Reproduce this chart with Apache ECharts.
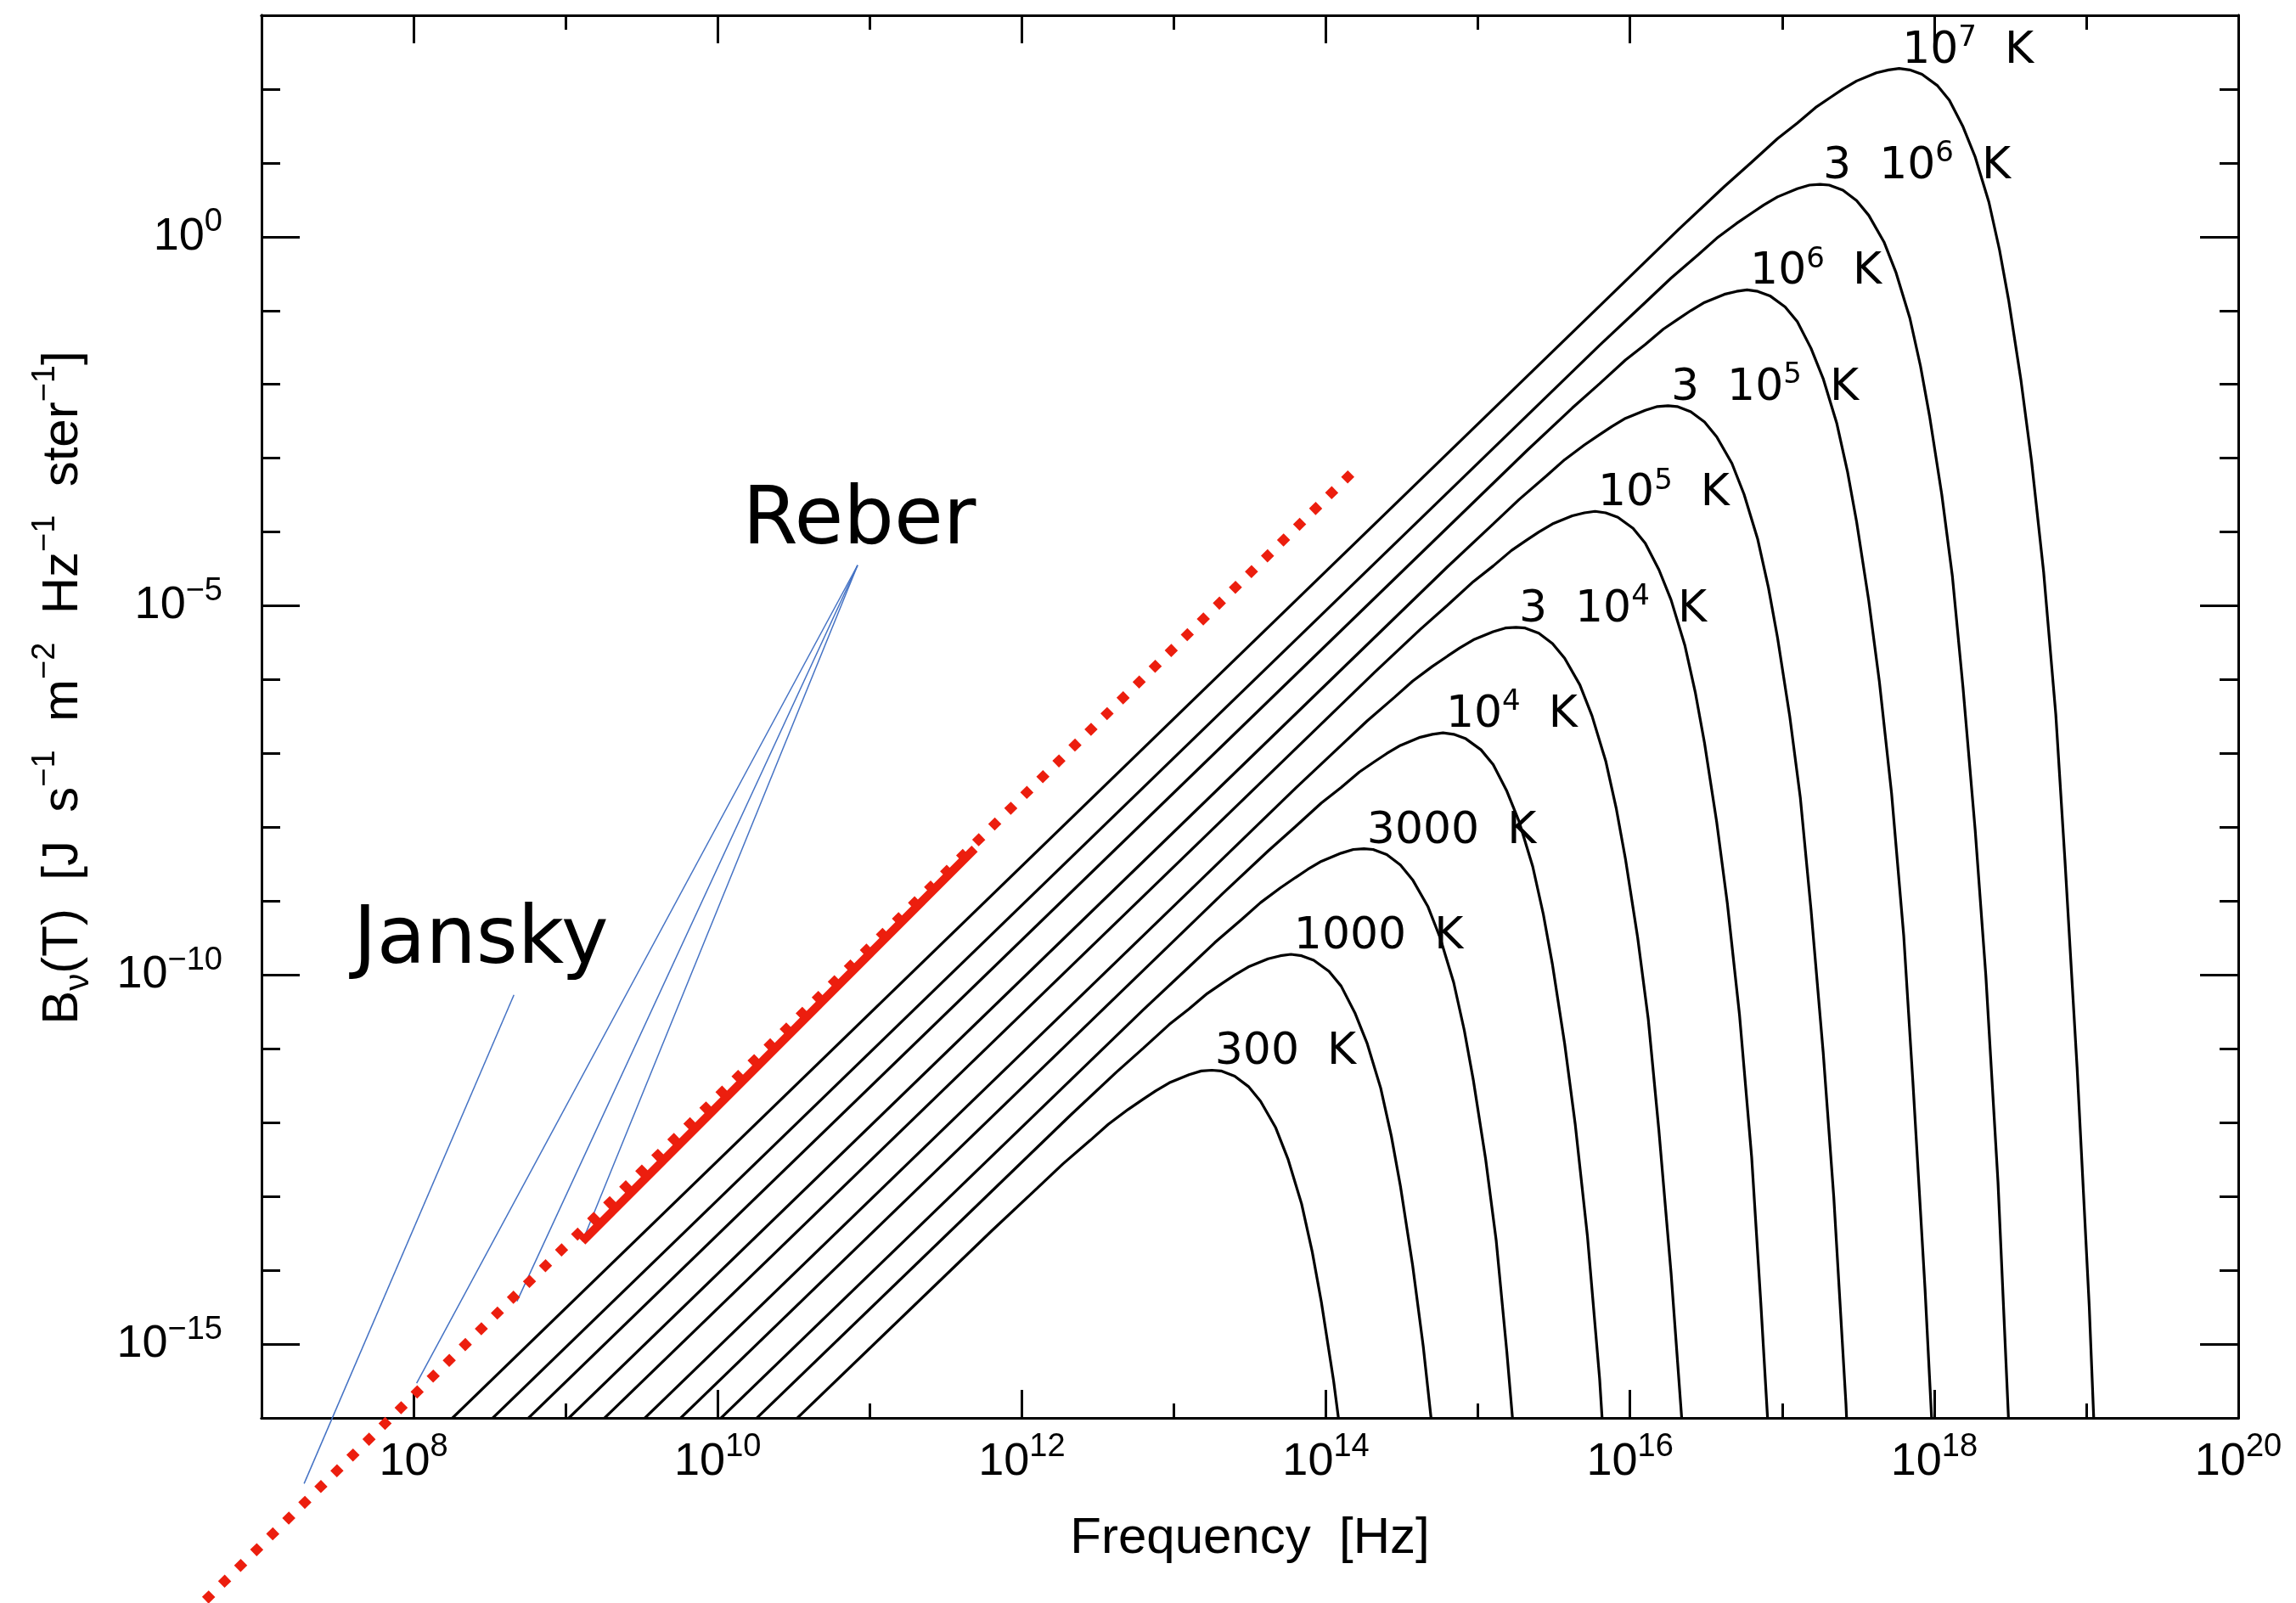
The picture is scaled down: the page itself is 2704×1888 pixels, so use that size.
<!DOCTYPE html>
<html>
<head>
<meta charset="utf-8">
<title>Planck curves</title>
<script src="https://cdn.jsdelivr.net/npm/echarts@6/dist/echarts.min.js"></script>
<style>
  html, body { margin: 0; padding: 0; background: #fff; }
  #chart { width: 2704px; height: 1888px; }
</style>
</head>
<body>
<div id="chart"></div>
<script>
// values are log10: x = frequency [Hz], y = B_nu [J s^-1 m^-2 Hz^-1 ster^-1]
const xMajorTicks = [8, 10, 12, 14, 16, 18, 20]
const yMajorTicks = [-15, -10, -5, 0]

const tempLabels = [
  '{n|300  K}', '{n|1000  K}', '{n|3000  K}',
  '{n|10}{s|4}{n|  K}', '{n|3  10}{s|4}{n|  K}',
  '{n|10}{s|5}{n|  K}', '{n|3  10}{s|5}{n|  K}',
  '{n|10}{s|6}{n|  K}', '{n|3  10}{s|6}{n|  K}',
  '{n|10}{s|7}{n|  K}'
]

const curve300 = [[10.00,-17.04],[11.80,-13.47],[12.10,-12.89],[12.27,-12.56],[12.45,-12.24],[12.57,-12.02],[12.70,-11.82],[12.80,-11.68],[12.88,-11.57],[12.97,-11.46],[13.10,-11.35],[13.18,-11.30],[13.25,-11.29],[13.31,-11.30],[13.40,-11.37],[13.49,-11.51],[13.57,-11.71],[13.67,-12.07],[13.75,-12.49],[13.84,-13.10],[13.91,-13.75],[13.97,-14.43],[14.05,-15.49],[14.12,-16.60],[14.19,-18.11]]
const curve1000 = [[9.70,-17.11],[12.32,-11.90],[12.62,-11.32],[12.80,-10.99],[12.97,-10.67],[13.10,-10.46],[13.22,-10.25],[13.32,-10.11],[13.40,-10.00],[13.49,-9.89],[13.62,-9.78],[13.70,-9.74],[13.77,-9.72],[13.84,-9.74],[13.92,-9.80],[14.02,-9.95],[14.10,-10.15],[14.19,-10.51],[14.27,-10.92],[14.36,-11.53],[14.43,-12.18],[14.49,-12.86],[14.57,-13.93],[14.64,-15.03],[14.72,-16.54],[14.80,-18.47]]
const curve3000 = [[9.50,-17.04],[12.80,-10.47],[13.10,-9.89],[13.27,-9.56],[13.45,-9.24],[13.57,-9.02],[13.70,-8.82],[13.80,-8.68],[13.88,-8.57],[13.97,-8.46],[14.10,-8.35],[14.18,-8.30],[14.25,-8.29],[14.31,-8.30],[14.40,-8.37],[14.49,-8.51],[14.57,-8.71],[14.67,-9.07],[14.75,-9.49],[14.84,-10.10],[14.91,-10.75],[14.97,-11.43],[15.05,-12.49],[15.12,-13.60],[15.19,-15.11],[15.27,-17.04],[15.34,-19.01]]
const curve1e4 = [[9.20,-17.11],[13.32,-8.90],[13.62,-8.32],[13.80,-7.99],[13.97,-7.67],[14.10,-7.46],[14.22,-7.25],[14.32,-7.11],[14.40,-7.00],[14.49,-6.89],[14.62,-6.78],[14.70,-6.74],[14.77,-6.72],[14.84,-6.74],[14.92,-6.80],[15.02,-6.95],[15.10,-7.15],[15.19,-7.51],[15.27,-7.92],[15.36,-8.53],[15.43,-9.18],[15.49,-9.86],[15.57,-10.93],[15.64,-12.03],[15.72,-13.54],[15.80,-15.47],[15.86,-17.44]]
const curve3e4 = [[9.00,-17.04],[13.80,-7.47],[14.10,-6.89],[14.27,-6.56],[14.45,-6.24],[14.57,-6.02],[14.70,-5.82],[14.80,-5.68],[14.88,-5.57],[14.97,-5.46],[15.10,-5.35],[15.18,-5.30],[15.25,-5.29],[15.31,-5.30],[15.40,-5.37],[15.49,-5.51],[15.57,-5.71],[15.67,-6.07],[15.75,-6.49],[15.84,-7.10],[15.91,-7.75],[15.97,-8.43],[16.05,-9.49],[16.12,-10.60],[16.19,-12.11],[16.27,-14.04],[16.34,-16.01],[16.42,-18.81]]
const curve1e5 = [[8.70,-17.11],[14.32,-5.90],[14.62,-5.32],[14.80,-4.99],[14.97,-4.67],[15.10,-4.46],[15.22,-4.25],[15.32,-4.11],[15.40,-4.00],[15.49,-3.89],[15.62,-3.78],[15.70,-3.74],[15.77,-3.72],[15.84,-3.74],[15.92,-3.80],[16.02,-3.95],[16.10,-4.15],[16.19,-4.51],[16.27,-4.92],[16.36,-5.53],[16.43,-6.18],[16.49,-6.86],[16.57,-7.93],[16.64,-9.03],[16.72,-10.54],[16.80,-12.47],[16.86,-14.44],[16.94,-17.25]]
const curve3e5 = [[8.50,-17.04],[14.80,-4.47],[15.10,-3.89],[15.27,-3.56],[15.45,-3.24],[15.57,-3.02],[15.70,-2.82],[15.80,-2.68],[15.88,-2.57],[15.97,-2.46],[16.10,-2.35],[16.18,-2.30],[16.25,-2.29],[16.31,-2.30],[16.40,-2.37],[16.49,-2.51],[16.57,-2.71],[16.67,-3.07],[16.75,-3.49],[16.84,-4.10],[16.91,-4.75],[16.97,-5.43],[17.05,-6.49],[17.12,-7.60],[17.19,-9.11],[17.27,-11.04],[17.34,-13.01],[17.42,-15.81],[17.49,-19.06]]
const curve1e6 = [[8.20,-17.11],[15.32,-2.90],[15.62,-2.32],[15.80,-1.99],[15.97,-1.67],[16.10,-1.46],[16.22,-1.25],[16.32,-1.11],[16.40,-1.00],[16.49,-0.89],[16.62,-0.78],[16.70,-0.74],[16.77,-0.72],[16.84,-0.74],[16.92,-0.80],[17.02,-0.95],[17.10,-1.15],[17.19,-1.51],[17.27,-1.92],[17.36,-2.53],[17.43,-3.18],[17.49,-3.86],[17.57,-4.93],[17.64,-6.03],[17.72,-7.54],[17.80,-9.47],[17.86,-11.44],[17.94,-14.25],[18.02,-17.49]]
const curve3e6 = [[8.00,-17.04],[15.80,-1.47],[16.10,-0.89],[16.27,-0.56],[16.45,-0.24],[16.57,-0.02],[16.70,0.18],[16.80,0.32],[16.88,0.43],[16.97,0.54],[17.10,0.65],[17.18,0.70],[17.25,0.71],[17.31,0.70],[17.40,0.63],[17.49,0.49],[17.57,0.29],[17.67,-0.07],[17.75,-0.49],[17.84,-1.10],[17.91,-1.75],[17.97,-2.43],[18.05,-3.49],[18.12,-4.60],[18.19,-6.11],[18.27,-8.04],[18.34,-10.01],[18.42,-12.81],[18.49,-16.06],[18.57,-20.17]]
const curve1e7 = [[7.70,-17.11],[16.32,0.10],[16.62,0.68],[16.80,1.01],[16.97,1.33],[17.10,1.54],[17.22,1.75],[17.32,1.89],[17.40,2.00],[17.49,2.11],[17.62,2.22],[17.70,2.26],[17.77,2.28],[17.84,2.26],[17.92,2.20],[18.02,2.05],[18.10,1.85],[18.19,1.49],[18.27,1.08],[18.36,0.47],[18.43,-0.18],[18.49,-0.86],[18.57,-1.93],[18.64,-3.03],[18.72,-4.54],[18.80,-6.47],[18.86,-8.44],[18.94,-11.25],[19.02,-14.49],[19.10,-18.60]]

const curves = [curve300, curve1000, curve3000, curve1e4, curve3e4, curve1e5, curve3e5, curve1e6, curve3e6, curve1e7]

// red Rayleigh-Jeans line (dotted) and the measured part (solid)
const rjDotted = [[6.63,-18.47],[14.17,-3.20]]
const rjSolid = [[9.11,-13.61],[11.69,-8.29]]

// annotation texts and their pointer lines
const noteNames = ['Jansky', 'Reber']
const notePos = [[7.60,-9.56],[10.16,-3.87]]
const pointerStart = [[8.66,-10.27],[10.92,-4.45],[10.92,-4.45],[10.92,-4.45]]
const pointerEnd = [[7.28,-16.89],[8.02,-15.53],[8.68,-14.42],[9.11,-13.61]]

const INK = '#000'
const TICK_FONT = 'Liberation Sans'
const CURVE_FONT = 'DejaVu Sans'
const RED = '#EC1E0E'
const BLUE = '#4472C4'

// plot box and scale, so the wide helper grid lines up with the visible one
const BOX = { left: 308, right: 68, top: 18, bottom: 218 }
const X_RANGE = [7, 20]
const Y_RANGE = [-16, 3]
const WIDE_X_MIN = 6.6
const WIDE_Y_MIN = -18.5

const powerLabel = (v) => '{b|10}{s|' + String(v).replace('-', '\u2212') + '}'

const tickRich = {
  b: { fontFamily: TICK_FONT, fontSize: 54, color: INK, lineHeight: 72 },
  s: { fontFamily: TICK_FONT, fontSize: 38, color: INK, lineHeight: 38, verticalAlign: 'top' }
}

const makeAxis = (dim, position, major) => {
  const isX = dim === 'x'
  const range = isX ? X_RANGE : Y_RANGE
  const axis = {
    type: 'value',
    min: range[0],
    max: range[1],
    interval: 1,
    position: position,
    axisLine: { onZero: false, lineStyle: { color: INK, width: 3 } },
    axisTick: {
      inside: true,
      length: major ? (isX ? 33 : 45) : (isX ? 17 : 22),
      lineStyle: { color: INK, width: 3 }
    },
    axisLabel: { show: false },
    splitLine: { show: false }
  }
  if (major) {
    const ticks = isX ? xMajorTicks : yMajorTicks
    axis.axisTick.customValues = ticks
    const withLabels = position === 'bottom' || position === 'left'
    axis.axisLabel = {
      show: withLabels,
      customValues: ticks,
      margin: isX ? 16 : 46,
      formatter: powerLabel,
      rich: tickRich
    }
  }
  return axis
}

const xAxes = [makeAxis('x', 'bottom', false), makeAxis('x', 'bottom', true), makeAxis('x', 'top', false), makeAxis('x', 'top', true)]
const yAxes = [makeAxis('y', 'left', false), makeAxis('y', 'left', true), makeAxis('y', 'right', false), makeAxis('y', 'right', true)]

xAxes[1].name = 'Frequency  [Hz]'
xAxes[1].nameLocation = 'middle'
xAxes[1].nameGap = 112
xAxes[1].nameTextStyle = { fontFamily: TICK_FONT, fontSize: 60, color: INK }

yAxes[1].name = '{t|B}{u|\u03bd}{t|(T)  [J  s}{p|\u22121}{t|  m}{p|\u22122}{t|  Hz}{p|\u22121}{t|  ster}{p|\u22121}{t|]}'
yAxes[1].nameLocation = 'middle'
yAxes[1].nameRotate = 90
yAxes[1].nameGap = 195
yAxes[1].nameTextStyle = {
  padding: [0, 0, 0, 68],
  rich: {
    t: { fontFamily: TICK_FONT, fontSize: 60, color: INK, lineHeight: 78 },
    u: { fontFamily: TICK_FONT, fontSize: 40, color: INK, lineHeight: 40, verticalAlign: 'bottom' },
    p: { fontFamily: TICK_FONT, fontSize: 38, color: INK, lineHeight: 38, verticalAlign: 'top' }
  }
}

// hidden helper grid: same scale, wider range, so the red dotted line can run past the axes
const chartW = 2704
const chartH = 1888
const pxPerX = (chartW - BOX.left - BOX.right) / (X_RANGE[1] - X_RANGE[0])
const pxPerY = (chartH - BOX.top - BOX.bottom) / (Y_RANGE[1] - Y_RANGE[0])
const wideGrid = {
  left: BOX.left - (X_RANGE[0] - WIDE_X_MIN) * pxPerX,
  right: BOX.right,
  top: BOX.top,
  bottom: BOX.bottom - (Y_RANGE[0] - WIDE_Y_MIN) * pxPerY
}
xAxes.push({ type: 'value', gridIndex: 1, min: WIDE_X_MIN, max: X_RANGE[1], show: false })
yAxes.push({ type: 'value', gridIndex: 1, min: WIDE_Y_MIN, max: Y_RANGE[1], show: false })

const peakOf = (curve) => curve.reduce((best, p) => (p[1] > best[1] ? p : best), curve[0])

const series = []

curves.forEach((curve) => {
  series.push({
    type: 'line',
    data: curve,
    symbol: 'none',
    clip: true,
    silent: true,
    z: 3,
    lineStyle: { color: INK, width: 3.2 }
  })
})

series.push({
  type: 'scatter',
  data: curves.map(peakOf),
  symbolSize: 1,
  itemStyle: { color: 'transparent', opacity: 1 },
  silent: true,
  z: 5,
  label: {
    show: true,
    opacity: 1,
    position: [4, 12],
    align: 'left',
    verticalAlign: 'bottom',
    formatter: (p) => tempLabels[p.dataIndex],
    rich: {
      n: { fontFamily: CURVE_FONT, fontSize: 52, color: INK, lineHeight: 64 },
      s: { fontFamily: CURVE_FONT, fontSize: 34, color: INK, lineHeight: 34, verticalAlign: 'top' }
    }
  }
})

pointerStart.forEach((start, i) => {
  series.push({
    type: 'line',
    data: [start, pointerEnd[i]],
    symbol: 'none',
    clip: false,
    silent: true,
    z: 4,
    lineStyle: { color: BLUE, width: 1.5 }
  })
})

series.push({
  type: 'line',
  xAxisIndex: 4,
  yAxisIndex: 4,
  data: rjDotted,
  symbol: 'none',
  clip: false,
  silent: true,
  z: 6,
  lineStyle: { color: RED, width: 11, type: [11, 15.5], cap: 'butt' }
})

series.push({
  type: 'line',
  data: rjSolid,
  symbol: 'none',
  clip: false,
  silent: true,
  z: 6,
  lineStyle: { color: RED, width: 10, cap: 'butt' }
})

series.push({
  type: 'scatter',
  data: notePos,
  symbolSize: 1,
  itemStyle: { color: 'transparent', opacity: 1 },
  silent: true,
  z: 7,
  label: {
    show: true,
    opacity: 1,
    position: 'right',
    distance: 0,
    formatter: (p) => noteNames[p.dataIndex],
    fontFamily: CURVE_FONT,
    fontSize: 94,
    color: INK
  }
})

const chart = echarts.init(document.getElementById('chart'))
chart.setOption({
  backgroundColor: '#fff',
  animation: false,
  grid: [
    { left: BOX.left, right: BOX.right, top: BOX.top, bottom: BOX.bottom, containLabel: false },
    { left: wideGrid.left, right: wideGrid.right, top: wideGrid.top, bottom: wideGrid.bottom, containLabel: false }
  ],
  xAxis: xAxes,
  yAxis: yAxes,
  series: series
})

window.addEventListener('resize', () => {
  chart.resize()
})
</script>
</body>
</html>
